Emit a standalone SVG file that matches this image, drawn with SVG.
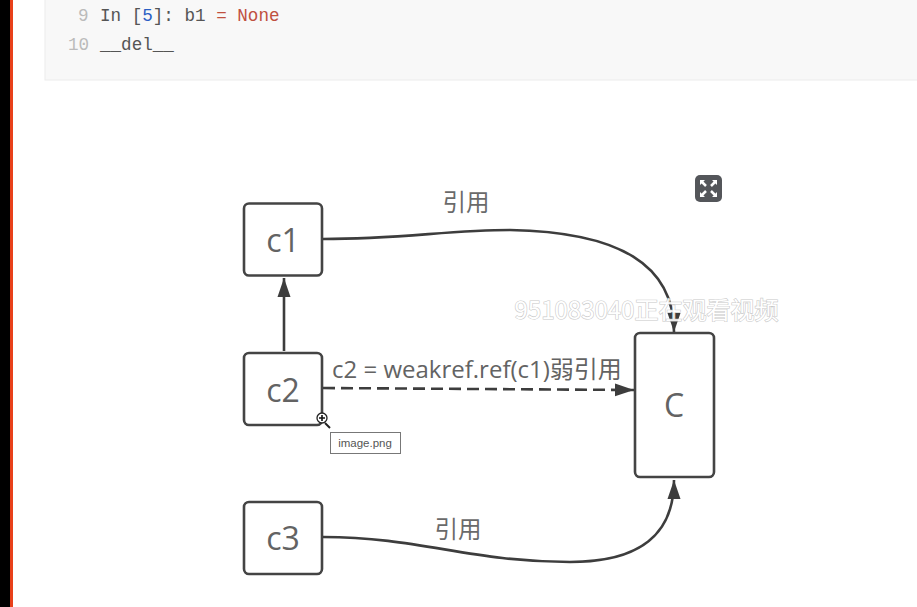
<svg xmlns="http://www.w3.org/2000/svg" width="917" height="607" viewBox="0 0 917 607">
<style>
.n{fill:#fff;stroke:#444;stroke-width:2.6}
.l{font-family:"Open Sans","Noto Sans CJK SC",sans-serif;fill:#636363}
.big{font-size:32px;text-anchor:middle}
.lab{font-family:"Noto Sans CJK SC",sans-serif;font-size:23.500px;fill:#6a6a6a;text-anchor:middle}
.c{fill:none;stroke:#3d3d3d;stroke-width:2.6}
.m{font-family:"Liberation Mono","DejaVu Sans Mono",monospace;font-size:17.600px}
</style>
<defs><marker id="a" markerUnits="userSpaceOnUse" markerWidth="20" markerHeight="14" refX="19" refY="7" orient="auto"><path d="M0 0.500L19 7L0 13.500Z" fill="#3d3d3d"/></marker></defs>
<rect width="917" height="607" fill="#fff"/>
<rect x="0" y="0" width="10" height="607" fill="#000"/>
<rect x="10" y="0" width="3" height="607" fill="#e8401a"/>
<g id="code">
<rect x="45" y="-2" width="880" height="82" fill="#f8f8f8" stroke="#ececec"/>
<text class="m" x="78" y="21" fill="#bbb">9</text>
<text class="m" x="68" y="50" fill="#bbb">10</text>
<text class="m" x="100" y="21" fill="#555">In [<tspan fill="#2a5fc4">5</tspan>]: b1 <tspan fill="#c0503f">= None</tspan></text>
<text class="m" x="100" y="50" fill="#555">__del__</text>
</g>
<g id="connectors">
<path class="c" d="M323 239C400 239 450 230 510 230C620 232 674 265 674 332" marker-end="url(#a)"/>
<path class="c" d="M284 351V278" marker-end="url(#a)"/>
<path class="c" stroke-dasharray="12 6" d="M323 388L634 390" marker-end="url(#a)"/>
<path class="c" d="M323 537C420 537 470 562 570 562C640 562 674 535 674 480" marker-end="url(#a)"/>
</g>
<g id="c1"><rect class="n" x="244" y="203.500" width="78" height="72" rx="5"/><text class="l big" x="283" y="252">c1</text></g>
<g id="c2"><rect class="n" x="244" y="353" width="78" height="72" rx="5"/><text class="l big" x="283" y="402">c2</text></g>
<g id="c3"><rect class="n" x="244" y="502" width="78" height="72" rx="5"/><text class="l big" x="283" y="550">c3</text></g>
<g id="C"><rect class="n" x="635" y="333" width="79" height="144" rx="5"/><text class="l big" x="674" y="417">C</text></g>
<g id="labels">
<text class="lab" x="466" y="211">引用</text>
<text class="lab" x="458" y="538">引用</text>
<text class="l" x="332" y="378" font-size="24">c2 = weakref.ref(c1)弱引用</text>
</g>
<g id="expand"><rect x="695" y="175" width="27" height="27" rx="5" fill="#54565a"/>
<path d="M701 181l5 5M716 181l-5 5M701 196l5-5M716 196l-5-5" stroke="#fff" stroke-width="2.500"/>
<path d="M700 180h5l-5 5zM717 180h-5l5 5zM700 197h5l-5-5zM717 197h-5l5-5z" fill="#fff"/></g>
<g id="cursor"><path d="M325 423l5 5" stroke="#222" stroke-width="2"/><circle cx="322" cy="418" r="5" fill="#fff" stroke="#222" stroke-width="1.300"/><path d="M319 418h6M322 415v6" stroke="#111" stroke-width="1.600"/></g>
<g id="tooltip"><rect x="330.500" y="432.500" width="70" height="21" fill="#fff" stroke="#777"/><text x="365" y="447" font-family="Liberation Sans,sans-serif" font-size="11.500" fill="#555" text-anchor="middle">image.png</text></g>
<text id="watermark" x="646.500" y="319" font-family="Noto Sans CJK SC,sans-serif" font-size="24" fill="#fff" stroke="#c4c4c4" stroke-width="1.200" paint-order="stroke" text-anchor="middle" opacity=".9">951083040正在观看视频</text>
</svg>
